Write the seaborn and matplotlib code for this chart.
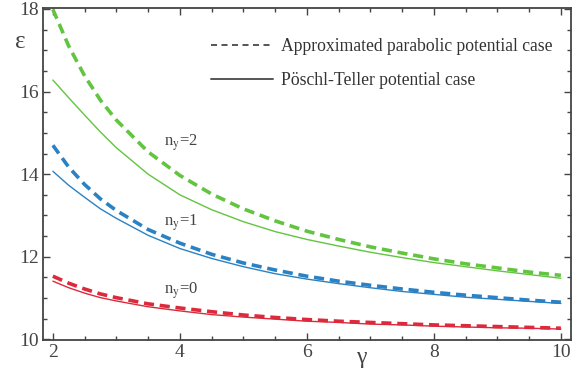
import numpy as np
import pandas as pd
import matplotlib
matplotlib.use("Agg")
import matplotlib.pyplot as plt
from matplotlib.lines import Line2D
from matplotlib.ticker import MultipleLocator
import seaborn as sns

# gamma sample points
gamma = [2.0, 2.25, 2.5, 2.75, 3.0, 3.5, 4.0, 4.5, 5.0, 5.5, 6.0, 6.5, 7.0, 7.5, 8.0, 8.5, 9.0, 9.5, 10.0]

# approximated parabolic potential (dashed)
parab_n0 = [11.53, 11.36, 11.22, 11.10, 11.01, 10.86, 10.76, 10.67, 10.59, 10.53, 10.48, 10.44, 10.41, 10.38, 10.35, 10.33, 10.31, 10.29, 10.27]
parab_n1 = [14.70, 14.17, 13.75, 13.40, 13.12, 12.66, 12.33, 12.06, 11.85, 11.68, 11.53, 11.41, 11.31, 11.22, 11.14, 11.07, 11.01, 10.95, 10.90]
parab_n2 = [17.99, 17.10, 16.38, 15.79, 15.31, 14.54, 13.97, 13.52, 13.16, 12.87, 12.62, 12.42, 12.24, 12.09, 11.95, 11.83, 11.73, 11.63, 11.55]

# Poschl-Teller potential (solid)
pt_n0 = [11.41, 11.25, 11.12, 11.01, 10.93, 10.79, 10.69, 10.60, 10.54, 10.49, 10.44, 10.41, 10.37, 10.35, 10.32, 10.30, 10.28, 10.27, 10.25]
pt_n1 = [14.07, 13.73, 13.44, 13.16, 12.93, 12.52, 12.20, 11.96, 11.76, 11.59, 11.46, 11.35, 11.25, 11.16, 11.09, 11.02, 10.97, 10.92, 10.87]
pt_n2 = [16.28, 15.85, 15.43, 15.02, 14.64, 14.00, 13.50, 13.14, 12.85, 12.61, 12.42, 12.26, 12.11, 11.98, 11.86, 11.76, 11.66, 11.57, 11.48]

level_labels = ["n$_{\\mathrm{y}}$=0", "n$_{\\mathrm{y}}$=1", "n$_{\\mathrm{y}}$=2"]
level_label_y = [11.18, 12.82, 14.76]
level_colors = ["#dc2a3c", "#2a82c4", "#62c440"]
legend_labels = ["Approximated parabolic potential case", "Pöschl-Teller potential case"]

sns.set_style("ticks")
plt.rcParams["font.family"] = ["Liberation Serif", "DejaVu Serif"]
plt.rcParams["mathtext.fontset"] = "stix"

fig = plt.figure(figsize=(5.72, 3.71), dpi=100)
ax = fig.add_axes([0.075, 0.083, 0.923, 0.895])

parab = [parab_n0, parab_n1, parab_n2]
pt = [pt_n0, pt_n1, pt_n2]
for i in range(3):
    d1 = pd.DataFrame({"gamma": gamma, "eps": pt[i]})
    sns.lineplot(data=d1, x="gamma", y="eps", ax=ax, color=level_colors[i],
                 linewidth=1.0, estimator=None, sort=False)
    d2 = pd.DataFrame({"gamma": gamma, "eps": parab[i]})
    sns.lineplot(data=d2, x="gamma", y="eps", ax=ax, color=level_colors[i],
                 linewidth=2.6, estimator=None, sort=False)
    ax.lines[-1].set_dashes([2.8, 1.6])

ax.set_xlim(1.843, 10.157)
ax.set_ylim(9.98, 18.02)
ax.set_xlabel("")
ax.set_ylabel("")
ax.xaxis.set_major_locator(MultipleLocator(2))
ax.xaxis.set_minor_locator(MultipleLocator(0.5))
ax.yaxis.set_major_locator(MultipleLocator(2))
ax.yaxis.set_minor_locator(MultipleLocator(0.5))

frame = "#444444"
for s in ax.spines.values():
    s.set_color(frame)
    s.set_linewidth(1.3)
ax.tick_params(which="both", direction="in", top=True, right=True, color=frame,
               labelcolor="#444444", labelsize=14, width=1.0, pad=3)
ax.tick_params(which="major", length=5)
ax.tick_params(which="minor", length=3)

# level annotations
for lab, yv in zip(level_labels, level_label_y):
    ax.text(3.75, yv, lab, fontsize=12, color="#444444", ha="left", va="center")

# axis symbols
fig.text(20 / 572, 1 - 42 / 371, "ε", fontsize=18, color="#444444", ha="center", va="center")
fig.text(361 / 572, 1 - 357 / 371, "γ", fontsize=17, color="#444444", ha="center", va="center")

handles = [Line2D([], [], color="#555555", linewidth=1.4, dashes=[3.1, 2.3]),
           Line2D([], [], color="#555555", linewidth=1.4)]
ax.legend(handles, legend_labels, loc="upper right", frameon=False, fontsize=12.7,
          handlelength=3.5, handletextpad=0.45, labelspacing=0.95,
          bbox_to_anchor=(0.995, 0.958), labelcolor="#333333")

fig.savefig("out.png", dpi=100)
